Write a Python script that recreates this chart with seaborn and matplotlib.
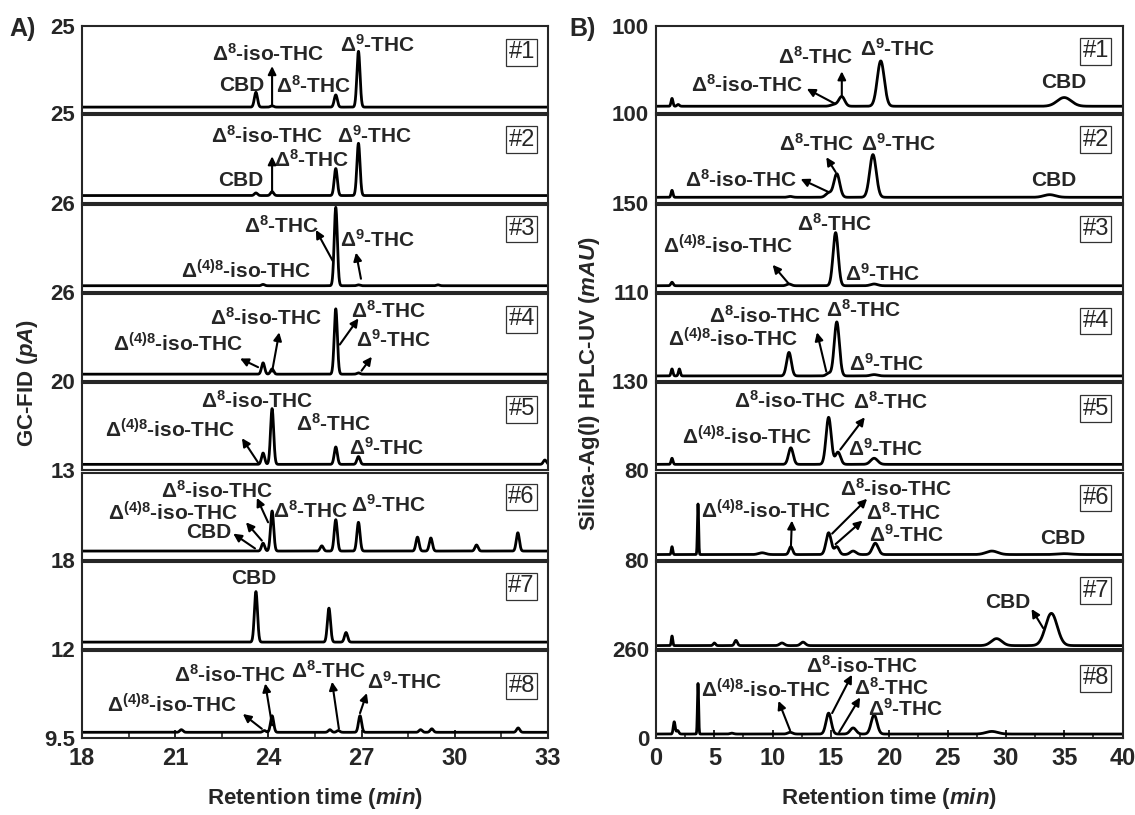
import numpy as np
import pandas as pd
import matplotlib
matplotlib.use("Agg")
import matplotlib.pyplot as plt
import seaborn as sns

# ---- data ----
# each trace = baseline + peaks (retention time, height in % of strip, sigma in min)
gc_base = [7, 8, 7, 8, 7, 10, 8, 7]
gc_rt = [
    [23.6, 24.12, 26.17, 26.9],
    [23.6, 24.12, 26.17, 26.9],
    [23.83, 26.17, 26.9, 29.46],
    [23.83, 24.12, 26.17, 26.9],
    [23.83, 24.12, 26.17, 26.9, 32.9],
    [23.83, 24.12, 25.72, 26.17, 26.9, 28.8, 29.23, 30.7, 32.03],
    [23.6, 25.95, 26.5],
    [21.2, 23.87, 24.12, 25.98, 26.25, 26.95, 28.9, 29.26, 32.04],
]
gc_h = [
    [17, 1.5, 14, 64],
    [3, 4.5, 31, 60],
    [1.5, 90, 1, 1],
    [13, 6, 75, 1.5],
    [13, 64, 20, 9, 5],
    [9, 46, 6, 36, 33, 16, 15, 7, 21],
    [58, 39, 11],
    [3, 2, 19, 3, 2, 19, 3, 4, 5],
]
gc_bottom_labels = ['25', '26', '26', '20', '13', '18', '12', '9.5']
gc_top_label = '25'

lc_base = [8, 6, 7, 6, 7, 6, 4, 5]
lc_rt = [
    [1.37, 1.9, 15.3, 15.93, 19.27, 35.0],
    [1.37, 11.5, 14.8, 15.5, 18.6, 33.75],
    [1.37, 11.4, 15.4, 18.7],
    [1.37, 2.0, 11.4, 14.8, 15.5, 18.7],
    [1.37, 11.56, 14.8, 15.6, 18.7],
    [1.37, 3.6, 9.1, 11.56, 14.8, 15.5, 16.9, 18.8, 28.8, 35.0],
    [1.37, 5.0, 6.85, 10.8, 12.6, 29.2, 33.9],
    [1.56, 1.85, 3.6, 6.5, 11.5, 14.8, 16.9, 18.7, 28.8],
]
lc_h = [
    [9, 2, 2, 11, 52, 10],
    [8, 1, 5, 27, 49, 3],
    [4, 2, 61, 2],
    [8, 8, 27, 3, 62, 1.5],
    [7, 19, 54, 14, 7],
    [9, 58, 2, 9, 25, 9, 4, 13, 4, 1],
    [11, 3, 6, 3, 4, 8, 37],
    [14, 4, 58, 1, 2, 24, 7, 22, 3],
]
lc_w = [
    [0.08, 0.1, 0.3, 0.25, 0.3, 0.6],
    [0.08, 0.2, 0.25, 0.25, 0.28, 0.5],
    [0.1, 0.2, 0.22, 0.3],
    [0.08, 0.08, 0.2, 0.2, 0.22, 0.3],
    [0.08, 0.2, 0.22, 0.22, 0.3],
    [0.06, 0.05, 0.3, 0.15, 0.22, 0.2, 0.25, 0.25, 0.5, 0.6],
    [0.06, 0.1, 0.12, 0.2, 0.2, 0.45, 0.5],
    [0.08, 0.1, 0.05, 0.15, 0.2, 0.22, 0.25, 0.25, 0.5],
]
lc_bottom_labels = ['100', '150', '110', '130', '80', '80', '260', '0']
lc_top_label = '100'

D8I = r"$\Delta^{\mathbf{8}}$-iso-THC"
D48 = r"$\Delta^{\mathbf{(4)8}}$-iso-THC"
D8 = r"$\Delta^{\mathbf{8}}$-THC"
D9 = r"$\Delta^{\mathbf{9}}$-THC"

# peak labels (text, x, y%) and arrows (x_peak, y_peak, x_label, y_label)
gc_labels = [
    [("CBD", 23.15, 32), (D8I, 23.99, 68), (D8, 25.47, 31), (D9, 27.5, 79)],
    [(D8I, 23.95, 76), (D9, 27.43, 76), (D8, 25.4, 49), ("CBD", 23.12, 25)],
    [(D8, 24.44, 76), (D9, 27.5, 60), (D48, 23.28, 24)],
    [(D8I, 23.92, 73), (D48, 21.09, 43), (D8, 27.88, 81), (D9, 28.04, 47)],
    [(D8I, 23.63, 80), (D48, 20.84, 47), (D8, 26.11, 54), (D9, 27.8, 26)],
    [(D8I, 22.34, 79), (D48, 20.93, 54), ("CBD", 22.09, 31), (D8, 25.37, 56), (D9, 27.88, 63)],
    [("CBD", 23.54, 81)],
    [(D8I, 22.76, 73), (D48, 20.9, 38), (D8, 25.95, 78), (D9, 28.4, 65)],
]
gc_arrows = [
    [(24.12, 8, 24.12, 54)],
    [(24.12, 13, 24.12, 53)],
    [(26.08, 35, 25.53, 71), (26.98, 15, 26.82, 45)],
    [(24.12, 11, 24.35, 56), (23.67, 16, 23.09, 26), (26.3, 42, 26.9, 72), (27.0, 12, 27.33, 28)],
    [(23.67, 9, 23.15, 37)],
    [(23.99, 43, 23.63, 71), (23.79, 22, 23.28, 43), (23.57, 13, 22.87, 30)],
    [],
    [(24.12, 15, 23.9, 63), (23.79, 11, 23.18, 28), (26.27, 11, 26.05, 65), (26.95, 29, 27.17, 52)],
]
lc_labels = [
    [(D8, 13.7, 65), (D8I, 7.85, 33), (D9, 20.7, 74), ("CBD", 35.0, 35)],
    [(D8, 13.8, 67), (D8I, 7.3, 26), (D9, 20.8, 67), ("CBD", 34.1, 25)],
    [(D8, 15.3, 78), (D48, 6.2, 53), (D9, 19.4, 21)],
    [(D8I, 9.35, 75), (D48, 6.6, 48), (D8, 17.8, 82), (D9, 19.8, 20)],
    [(D8I, 11.5, 80), (D8, 20.1, 79), (D48, 7.8, 38), (D9, 19.7, 25)],
    [(D48, 9.4, 56), (D8I, 20.6, 81), (D8, 21.2, 54), (D9, 21.5, 29), ("CBD", 34.9, 24)],
    [("CBD", 30.2, 54)],
    [(D48, 9.4, 56), (D8I, 17.7, 83), (D8, 20.2, 58), (D9, 21.4, 34)],
]
lc_arrows = [
    [(15.93, 20, 15.93, 48), (15.33, 11, 12.93, 28)],
    [(15.4, 35, 14.6, 52), (14.8, 12, 12.4, 27)],
    [(11.4, 9, 10.0, 31)],
    [(14.6, 11, 13.8, 56)],
    [(15.8, 24, 17.9, 61)],
    [(11.56, 13, 11.65, 45), (15.1, 30, 18.1, 70), (15.4, 18, 17.7, 45)],
    [(33.2, 24, 32.2, 46)],
    [(11.5, 9, 10.5, 43), (15.1, 29, 16.8, 73), (15.7, 7, 17.5, 47)],
]
gc_box_y = [70, 72, 72, 71, 70, 72, 72, 60]
lc_box_y = [71, 72, 72, 69, 71, 71, 67, 69]

# ---- style ----
sns.set_style("ticks")
plt.rcParams['font.family'] = ['Liberation Sans', 'DejaVu Sans']
plt.rcParams['font.weight'] = 'bold'
plt.rcParams['mathtext.fontset'] = 'custom'
plt.rcParams['mathtext.rm'] = 'Liberation Sans'
plt.rcParams['mathtext.bf'] = 'Liberation Sans:bold'
plt.rcParams['mathtext.it'] = 'Liberation Sans:bold:italic'
plt.rcParams['axes.linewidth'] = 1.5


def trace(x, base, rts, hs, ws):
    y = np.full_like(x, base, dtype=float)
    for r, h, w in zip(rts, hs, ws):
        y += h * np.exp(-0.5 * ((x - r) / w) ** 2)
    return y


fig = plt.figure(figsize=(11.35, 8.15), dpi=100)
gs_left = fig.add_gridspec(8, 1, left=0.0722, right=0.4828, top=0.968, bottom=0.094, hspace=0.025)
gs_right = fig.add_gridspec(8, 1, left=0.578, right=0.989, top=0.968, bottom=0.094, hspace=0.025)

panels = [
    (gs_left, (18, 33), gc_base, gc_rt, gc_h, None, gc_bottom_labels, gc_top_label,
     gc_labels, gc_arrows, gc_box_y, 32.15),
    (gs_right, (0, 40), lc_base, lc_rt, lc_h, lc_w, lc_bottom_labels, lc_top_label,
     lc_labels, lc_arrows, lc_box_y, 37.7),
]

axes_sets = []
for (gs, xr, bases, rts, hs, ws, blabels, tlabel, labels, arrows, box_y, box_x) in panels:
    x = np.linspace(xr[0], xr[1], 4000)
    axs = []
    for i in range(8):
        ax = fig.add_subplot(gs[i])
        widths = ws[i] if ws is not None else [0.05] * len(rts[i])
        df = pd.DataFrame({'t': x, 's': trace(x, bases[i], rts[i], hs[i], widths)})
        sns.lineplot(data=df, x='t', y='s', ax=ax, color='k', lw=2.0,
                     estimator=None, errorbar=None)
        ax.set_xlim(*xr)
        ax.set_ylim(0, 100)
        ax.set_xlabel('')
        ax.set_ylabel('')
        if i == 0:
            ax.set_yticks([0, 100])
            ax.set_yticklabels([blabels[i], tlabel])
        else:
            ax.set_yticks([0])
            ax.set_yticklabels([blabels[i]])
        ax.tick_params(axis='y', length=0, pad=5, labelsize=16)
        for sp in ax.spines.values():
            sp.set_visible(True)
        for txt, tx, ty in labels[i]:
            ax.text(tx, ty, txt, ha='center', va='center', fontsize=15, fontweight='bold')
        for x0, y0, x1, y1 in arrows[i]:
            ax.annotate('', xy=(x1, y1), xytext=(x0, y0),
                        arrowprops=dict(arrowstyle='-|>', color='k', lw=1.5,
                                        mutation_scale=12, shrinkA=0, shrinkB=0))
        ax.text(box_x, box_y[i], f"#{i + 1}", ha='center', va='center', fontsize=17,
                fontweight='normal',
                bbox=dict(boxstyle='square,pad=0.1', fc='white', ec='#333333', lw=0.9))
        if i < 7:
            ax.set_xticks([])
        axs.append(ax)
    axes_sets.append(axs)

# bottom x axes
axl = axes_sets[0][-1]
axl.set_xticks([18, 21, 24, 27, 30, 33])
axl.set_xticks(np.arange(19.5, 33, 3), minor=True)
axr = axes_sets[1][-1]
axr.set_xticks(np.arange(0, 41, 5))
axr.set_xticks(np.arange(2.5, 40, 5), minor=True)
for ax in (axl, axr):
    ax.tick_params(axis='x', which='major', direction='in', length=6, width=1.4,
                   labelsize=17, pad=6)
    ax.tick_params(axis='x', which='minor', direction='in', length=3.5, width=1.2)
    ax.set_xlabel(r"Retention time ($min$)", fontsize=16, fontweight='bold', labelpad=12)

fig.text(0.024, 0.53, r"GC-FID ($pA$)", rotation=90, ha='center', va='center',
         fontsize=16, fontweight='bold')
fig.text(0.519, 0.53, r"Silica-Ag(I) HPLC-UV ($mAU$)", rotation=90, ha='center',
         va='center', fontsize=16, fontweight='bold')
fig.text(0.02, 0.965, "A)", ha='center', va='center', fontsize=18, fontweight='bold')
fig.text(0.513, 0.965, "B)", ha='center', va='center', fontsize=18, fontweight='bold')

fig.savefig("out.png", dpi=100)
